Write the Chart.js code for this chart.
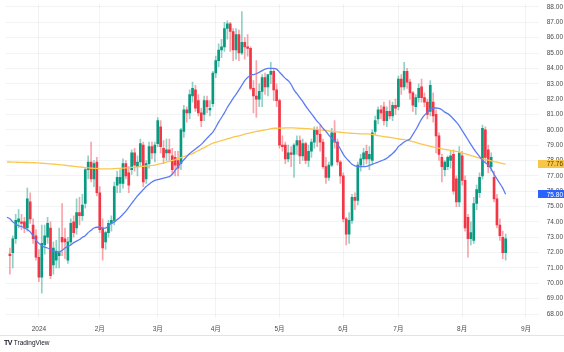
<!DOCTYPE html>
<html>
<head>
<meta charset="utf-8">
<script src="https://cdn.jsdelivr.net/npm/chart.js@4.4.1/dist/chart.umd.min.js"></script>
<style>
  body { margin: 0; background: #fff; }
  #wrap { position: relative; width: 564px; height: 352px; }
  #tv { position: absolute; left: 4px; top: 339px; font: 6.5px 'Liberation Sans', sans-serif; color: #131722; }
  #tv b { font-size: 7px; letter-spacing: -0.6px; margin-right: 2px; }
</style>
</head>
<body>
<div id="wrap">
  <canvas id="chart" width="564" height="352"></canvas>
  <div id="tv"><b>TV</b>TradingView</div>
</div>
<script>
// daily candles, 14 Dec 2023 .. 22 Aug 2024 (index 0 = 14 Dec, empty)
const opens = [null,
  71.9,72.0,72.9,74.0,74.0,74.0,73.6,75.3,73.8,73.1,
  71.7,70.4,72.5,73.0,73.6,71.2,71.5,71.8,73.0,72.9,71.5,72.7,74.0,73.6,74.6,74.4,75.2,77.4,77.9,76.8,77.9,
  75.9,73.6,72.7,73.3,73.9,74.1,76.4,76.5,76.5,77.8,77.2,77.4,78.5,77.6,77.9,79.0,76.8,77.8,78.9,78.5,
  79.1,80.2,78.8,78.5,78.7,78.3,78.2,78.0,77.8,79.9,81.3,81.1,82.2,82.6,81.9,81.1,81.0,81.9,81.3,81.7,
  83.7,84.5,85.2,85.4,86.6,86.9,86.4,85.2,86.2,85.0,85.7,85.4,85.3,82.7,82.2,82.0,82.5,83.4,82.8,83.6,83.8,82.6,
  81.9,79.0,79.0,78.1,78.5,78.4,79.0,79.3,78.3,79.1,78.0,78.6,79.2,80.0,79.7,79.2,77.6,76.9,77.7,79.8,79.2,77.9,
  77.0,74.2,73.2,74.1,75.6,75.4,77.7,78.1,78.6,78.1,78.0,79.9,80.7,81.3,81.5,80.6,81.2,80.9,81.6,
  81.5,83.3,82.8,83.8,83.1,82.4,81.5,82.1,82.8,82.1,81.8,81.2,81.8,81.0,79.6,78.2,77.4,77.6,78.0,78.4,76.8,75.3,
  78.3,76.7,74.3,72.9,72.8,75.2,75.9,77.0,80.0,78.7,77.6,76.9,75.5,73.8,73.0,72.0];
const highs = [null,
  72.3,73.1,74.5,74.8,74.5,74.3,76.2,75.9,74.2,73.5,
  72.2,73.8,73.8,74.3,74.0,72.7,72.8,73.6,75.2,73.6,73.0,74.2,74.4,75.5,75.6,75.8,77.5,78.3,79.2,78.0,78.2,
  76.3,74.2,73.4,74.1,74.4,76.6,77.3,77.4,78.1,78.0,77.6,78.7,78.8,78.3,79.4,79.2,78.0,79.2,79.2,79.2,
  80.8,80.6,79.3,79.4,79.4,78.8,78.6,78.6,80.1,81.6,81.5,82.6,83.1,82.9,82.3,81.4,82.2,82.2,81.9,83.8,
  84.8,85.6,85.9,87.0,87.1,87.0,86.6,86.6,86.5,87.7,86.0,86.2,85.4,83.2,84.5,83.0,83.6,83.7,83.6,84.4,84.0,83.0,
  82.0,79.6,79.2,79.0,78.9,79.1,79.6,79.6,79.4,79.2,79.0,79.4,80.2,80.2,80.3,79.4,78.2,77.9,80.1,80.6,79.4,78.0,
  77.2,74.3,74.6,75.8,75.9,77.9,78.4,78.8,79.0,78.9,80.0,80.9,81.5,81.6,81.8,81.5,81.9,81.8,82.0,
  83.5,83.6,84.4,84.0,83.3,82.5,82.3,83.0,83.3,82.4,82.0,83.2,82.4,81.3,79.8,78.4,78.0,78.3,78.6,78.7,77.0,78.9,
  78.6,77.0,74.5,74.0,75.6,76.4,77.2,80.3,80.2,79.0,78.5,77.3,75.8,74.2,73.4,73.2];
const lows = [null,
  70.6,71.0,72.6,73.6,73.5,73.3,73.4,73.9,72.6,71.5,
  70.1,69.35,71.9,72.6,70.3,70.6,71.0,71.0,71.8,71.6,71.3,72.5,73.0,73.2,73.8,74.1,74.9,76.8,76.6,76.3,75.7,
  73.3,71.5,72.2,73.0,73.4,73.8,75.9,75.9,76.2,76.8,75.9,77.1,77.3,77.0,77.6,76.3,76.5,77.5,78.1,77.9,
  78.9,78.5,77.8,78.0,78.0,77.1,77.0,77.0,77.4,79.5,80.5,80.7,81.8,81.2,80.9,80.2,80.6,81.1,80.9,81.5,
  83.4,84.1,84.7,85.1,85.9,85.1,84.5,84.6,84.5,84.9,84.6,84.8,82.6,81.1,80.8,81.5,81.5,82.3,82.2,83.0,81.9,81.5,
  78.8,78.6,77.8,77.9,77.6,76.9,78.4,77.8,78.0,77.8,77.6,78.2,78.8,78.9,78.6,77.5,76.5,76.7,77.6,78.8,77.7,76.5,
  74.0,72.5,72.6,73.9,74.8,75.1,77.3,77.6,77.8,77.4,77.8,79.7,80.4,80.7,80.3,80.2,80.7,80.6,81.0,
  81.3,82.3,82.6,82.7,82.0,81.2,81.0,81.8,81.8,81.5,80.7,80.9,80.5,78.5,78.0,76.6,77.0,77.4,77.5,75.8,75.0,75.0,
  76.4,73.4,71.7,72.5,72.6,74.8,75.6,76.8,77.9,77.2,77.3,75.3,73.6,72.8,71.6,71.5];
const closes = [null,
  71.8,72.9,74.1,74.2,73.9,73.6,75.5,74.2,72.9,71.7,
  70.4,72.6,73.1,73.9,70.5,72.3,72.1,72.0,72.7,72.7,72.7,73.9,73.3,74.6,74.4,75.1,77.4,77.9,76.8,77.8,75.9,
  73.5,72.3,73.3,73.9,74.1,76.3,76.9,76.9,77.8,77.0,76.4,78.5,77.7,77.9,79.1,76.6,77.8,78.9,78.5,79.0,
  80.6,78.9,78.2,78.7,78.5,77.4,77.7,77.5,80.0,81.3,81.1,82.3,82.7,81.4,81.1,80.6,81.9,81.5,81.4,83.7,
  84.5,85.2,85.4,86.6,86.9,86.4,85.2,86.2,85.0,85.7,85.4,85.3,82.7,82.2,82.0,82.5,83.4,82.8,83.6,83.8,82.6,81.9,
  79.0,78.9,78.1,78.5,78.4,79.0,79.3,78.3,79.1,78.0,78.6,79.2,80.0,79.7,79.2,77.6,76.9,77.7,79.8,79.2,77.9,77.0,
  74.2,73.2,74.1,75.6,75.4,77.7,78.1,78.5,78.1,78.4,79.8,80.6,81.3,81.1,80.6,81.2,80.9,81.6,81.4,
  83.3,82.8,83.8,83.1,82.4,81.6,82.1,82.7,82.1,81.8,81.0,82.9,80.9,79.6,78.4,77.6,77.9,78.2,78.3,76.0,75.3,78.5,
  76.7,73.6,72.9,73.3,75.2,76.1,76.9,80.1,78.2,77.6,78.2,75.5,73.8,73.1,72.0,72.9];

// moving averages (blue = short, orange = long)
const maShort = [
  74.3,74.2,74.0,73.85,73.75,73.7,73.6,73.5,73.35,73.1,72.8,72.6,72.45,72.35,72.3,72.2,72.1,72.05,72.05,72.15,
  72.3,72.4,72.5,72.65,72.75,72.85,73.0,73.1,73.3,73.45,73.6,73.65,73.65,73.6,73.6,73.75,73.9,74.0,74.15,74.3,
  74.5,74.7,74.95,75.2,75.45,75.7,75.9,76.1,76.3,76.45,76.6,76.7,76.75,76.8,76.85,76.9,76.95,77.1,77.35,77.6,
  77.85,78.05,78.25,78.45,78.6,78.75,78.9,79.05,79.25,79.45,79.65,79.85,80.15,80.5,80.8,81.1,81.45,81.75,82.05,82.3,
  82.6,82.9,83.2,83.4,83.55,83.6,83.65,83.75,83.85,83.95,84.0,84.0,84.0,83.95,83.75,83.55,83.35,83.2,82.95,82.6,
  82.35,82.1,81.85,81.55,81.3,81.05,80.8,80.55,80.35,80.1,79.9,79.65,79.45,79.3,79.05,78.75,78.4,78.15,77.95,77.75,
  77.65,77.6,77.6,77.6,77.62,77.68,77.75,77.82,77.9,77.97,78.05,78.15,78.3,78.45,78.65,78.9,79.05,79.2,79.3,79.4,
  79.7,80.0,80.35,80.7,80.95,81.15,81.35,81.42,81.42,81.4,81.3,81.15,81.05,80.9,80.7,80.5,80.25,79.95,79.65,79.35,
  79.05,78.75,78.5,78.25,78.0,77.85,77.7,77.45,77.1,76.8,76.5,76.2,75.8];
const maLong = [
  77.90,77.90,77.89,77.89,77.88,77.88,77.87,77.87,77.86,77.86,77.85,77.84,77.82,77.81,77.79,77.78,77.76,77.75,
  77.73,77.71,77.69,77.67,77.64,77.62,77.60,77.58,77.56,77.54,77.52,77.50,77.49,77.48,77.46,77.45,
  77.45,77.46,77.46,77.47,77.48,77.49,77.50,77.52,77.53,77.55,77.56,77.58,77.60,77.62,77.64,77.66,77.68,77.70,
  77.74,77.79,77.84,77.89,77.95,78.00,78.06,78.13,78.19,78.26,78.32,78.39,78.45,78.55,78.65,78.74,78.84,78.94,79.04,79.13,
  79.19,79.24,79.30,79.35,79.41,79.46,79.52,79.57,79.61,79.66,79.71,79.76,79.80,79.85,79.89,79.92,79.96,80.00,80.03,80.07,80.10,
  80.10,80.11,80.11,80.12,80.12,80.12,80.12,80.11,80.10,80.09,80.08,80.07,80.05,80.04,80.02,79.99,79.97,79.94,79.92,
  79.90,79.88,79.86,79.84,79.82,79.80,79.78,79.77,79.76,79.75,79.74,79.73,79.73,79.72,79.69,79.66,79.62,79.59,79.56,79.53,
  79.50,79.47,79.44,79.41,79.38,79.36,79.33,79.28,79.23,79.18,79.12,79.07,79.02,78.97,78.92,78.87,
  78.83,78.80,78.76,78.73,78.69,78.66,78.62,78.59,78.55,78.49,78.44,78.38,78.32,78.27,78.21,78.15,
  78.11,78.06,78.02,77.98,77.93,77.89,77.85,77.80,77.76];

// time scale: 184 slots (173 sessions + empty space on the right)
const slotCount = 184;
const monthIdx = [11, 32, 52, 72, 94, 116, 135, 157, 179];
const monthText = ['2024', '2月', '3月', '4月', '5月', '6月', '7月', '8月', '9月'];
const priceTicks = [68,69,70,71,72,73,74,75,76,77,78,79,80,81,82,83,84,85,86,87,88];

const upColor = '#089981';
const downColor = '#f23645';
const FONT = "'Liberation Sans', 'Noto Sans CJK JP', sans-serif";

let labels = [];
for (let i = 0; i < slotCount; i++) labels.push(i);

let wickData = [], bodyData = [], wickColors = [], bodyColors = [];
for (let i = 0; i < slotCount; i++) {
    if (opens[i] == null) {
        wickData.push(null); bodyData.push(null);
        wickColors.push('transparent'); bodyColors.push('transparent');
        continue;
    }
    let up = closes[i] >= opens[i];
    wickData.push([lows[i], highs[i]]);
    bodyData.push([opens[i], closes[i]]);
    wickColors.push(up ? 'rgba(8,153,129,0.45)' : 'rgba(242,54,69,0.45)');
    bodyColors.push(up ? upColor : downColor);
}

// last values boxes on the price scale + bottom line
const extras = {
    id: 'extras',
    afterDraw(chart) {
        const ctx = chart.ctx;
        const y = chart.scales.y;
        ctx.save();
        ctx.strokeStyle = '#e0e3eb';
        ctx.lineWidth = 1;
        ctx.beginPath();
        ctx.moveTo(0, 335.5);
        ctx.lineTo(564, 335.5);
        ctx.stroke();

        function box(val, bg, fg) {
            let py = y.getPixelForValue(val);
            ctx.fillStyle = bg;
            ctx.fillRect(538, Math.round(py) - 4, 26, 8);
            ctx.fillStyle = fg;
            ctx.font = '6.5px ' + FONT;
            ctx.textBaseline = 'middle';
            ctx.textAlign = 'right';
            ctx.fillText(val.toFixed(2), 563, py + 0.5);
        }
        box(maLong[maLong.length - 1], '#f7c548', '#5a4200');
        box(maShort[maShort.length - 1], '#2962ff', '#ffffff');
        ctx.restore();
    }
};

new Chart(document.getElementById('chart'), {
    type: 'bar',
    data: {
        labels: labels,
        datasets: [
            {
                type: 'line', data: maShort, borderColor: '#5b7cf5', borderWidth: 1.3,
                pointRadius: 0, cubicInterpolationMode: 'monotone', order: 0
            },
            {
                type: 'line', data: maLong, borderColor: '#f9c74f', borderWidth: 1.3,
                pointRadius: 0, cubicInterpolationMode: 'monotone', order: 0
            },
            {
                data: bodyData, backgroundColor: bodyColors, barThickness: 2,
                minBarLength: 1, grouped: false, order: 1
            },
            {
                data: wickData, backgroundColor: wickColors, barThickness: 1,
                grouped: false, order: 2
            }
        ]
    },
    options: {
        responsive: false,
        animation: false,
        layout: { padding: { left: 0, top: 0, right: 1, bottom: 17 } },
        plugins: { legend: { display: false }, tooltip: { enabled: false } },
        scales: {
            x: {
                offset: true,
                border: { display: false },
                grid: {
                    offset: false,
                    drawTicks: false,
                    color: (c) => monthIdx.includes(c.index) ? 'rgba(42,46,57,0.06)' : 'transparent'
                },
                ticks: {
                    autoSkip: false,
                    maxRotation: 0,
                    padding: 7,
                    color: '#4a4a4a',
                    font: { size: 6.5, family: FONT },
                    callback: function (v) {
                        let k = monthIdx.indexOf(v);
                        return k >= 0 ? monthText[k] : '';
                    }
                },
                afterFit: (s) => { s.height = 17; }
            },
            y: {
                position: 'right',
                min: 67.74,
                max: 88.2,
                border: { display: false },
                grid: { drawTicks: false, color: 'rgba(42,46,57,0.06)' },
                afterBuildTicks: (s) => { s.ticks = priceTicks.map(v => ({ value: v })); },
                ticks: {
                    padding: 0,
                    crossAlign: 'far',
                    color: '#4a4a4a',
                    font: { size: 6.5, family: FONT },
                    callback: (v) => Number(v).toFixed(2)
                },
                afterFit: (s) => { s.width = 24; }
            }
        }
    },
    plugins: [extras]
});
</script>
</body>
</html>
